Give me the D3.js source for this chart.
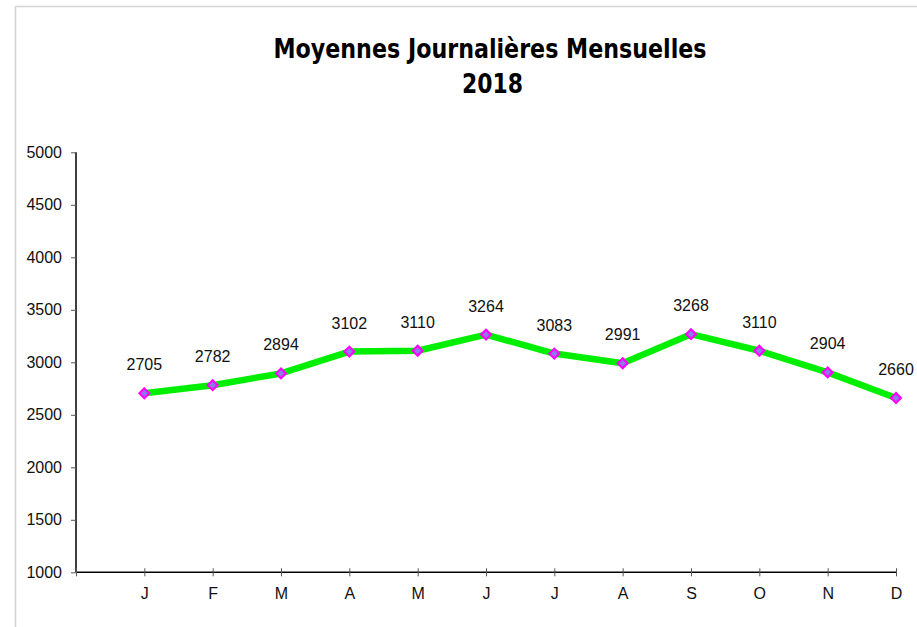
<!DOCTYPE html>
<html>
<head>
<meta charset="utf-8">
<script src="https://cdn.jsdelivr.net/npm/d3@7/dist/d3.min.js"></script>
<style>
  html, body { margin: 0; padding: 0; background: #fff; }
  svg { display: block; }
</style>
</head>
<body>
<script>
const months = ["J", "F", "M", "A", "M", "J", "J", "A", "S", "O", "N", "D"];
const values = [2705, 2782, 2894, 3102, 3110, 3264, 3083, 2991, 3268, 3110, 2904, 2660];
const yTicks = [1000, 1500, 2000, 2500, 3000, 3500, 4000, 4500, 5000];
const titleLines = ["Moyennes Journalières Mensuelles", "2018"];

const W = 917, H = 627;
const svg = d3.select("body").append("svg").attr("width", W).attr("height", H);

// outer frame
svg.append("path")
  .attr("d", `M15.5,${H} L15.5,6.5 L${W},6.5`)
  .attr("fill", "none").attr("stroke", "#d4d4d4").attr("stroke-width", 1.5);

const x = d3.scaleLinear().domain([0, months.length]).range([76, 896]);
const y = d3.scaleLinear().domain([1000, 5000]).range([572.3, 152.3]);

// title
const titleFont = "'DejaVu Sans', sans-serif";
svg.append("text")
  .attr("x", 490).attr("y", 58)
  .attr("text-anchor", "middle")
  .attr("font-family", titleFont).attr("font-weight", "bold").attr("font-size", 26)
  .attr("textLength", 433).attr("lengthAdjust", "spacingAndGlyphs")
  .text(titleLines[0]);
svg.append("text")
  .attr("x", 492.5).attr("y", 93)
  .attr("text-anchor", "middle")
  .attr("font-family", titleFont).attr("font-weight", "bold").attr("font-size", 26)
  .attr("textLength", 61).attr("lengthAdjust", "spacingAndGlyphs")
  .text(titleLines[1]);

const font = "'Liberation Sans', Arial, Helvetica, sans-serif";

// y axis
const yAxis = d3.axisLeft(y).tickValues(yTicks).tickSize(5).tickPadding(9).tickFormat(d3.format("d"));
const gy = svg.append("g").attr("transform", "translate(76,0)").call(yAxis);
gy.select(".domain").attr("stroke", "#000").attr("stroke-width", 1.5).attr("d", `M0,${y(5000)}V${y(1000)}`);
gy.selectAll(".tick line").attr("stroke", "#555");
gy.selectAll(".tick text").attr("font-family", font).attr("font-size", 16).attr("fill", "#111");

// x axis
const xIdx = d3.range(0, months.length + 1);
const xAxis = d3.axisBottom(x).tickValues(xIdx).tickSize(4).tickPadding(11)
  .tickFormat(i => i === 0 ? "" : months[i - 1]);
const gx = svg.append("g").attr("transform", `translate(0,${y(1000)})`).call(xAxis);
gx.select(".domain").attr("stroke", "#000").attr("stroke-width", 1.5).attr("d", `M${x(0)},0H${x(months.length)}`);
gx.selectAll(".tick line").attr("stroke", "#555").attr("y1", -4).attr("y2", 4);
gx.selectAll(".tick text").attr("font-family", font).attr("font-size", 16).attr("fill", "#111");

// line
const line = d3.line().x((d, i) => x(i + 1)).y(d => y(d));
svg.append("path").datum(values)
  .attr("d", line)
  .attr("fill", "none").attr("stroke", "#00ee00").attr("stroke-width", 6.5)
  .attr("stroke-linejoin", "round");

// markers
const diamond = d3.symbol().type(d3.symbolDiamond2).size(60);
svg.selectAll(".mk").data(values).join("path")
  .attr("class", "mk")
  .attr("transform", (d, i) => `translate(${x(i + 1)},${y(d)})`)
  .attr("d", diamond)
  .attr("fill", "#8a7cf0").attr("stroke", "#ff00ff").attr("stroke-width", 2.2);

// data labels
svg.selectAll(".lbl").data(values).join("text")
  .attr("class", "lbl")
  .attr("x", (d, i) => x(i + 1))
  .attr("y", d => y(d) - 23)
  .attr("text-anchor", "middle")
  .attr("font-family", font).attr("font-size", 16).attr("fill", "#111")
  .text(d => d);
</script>
</body>
</html>
